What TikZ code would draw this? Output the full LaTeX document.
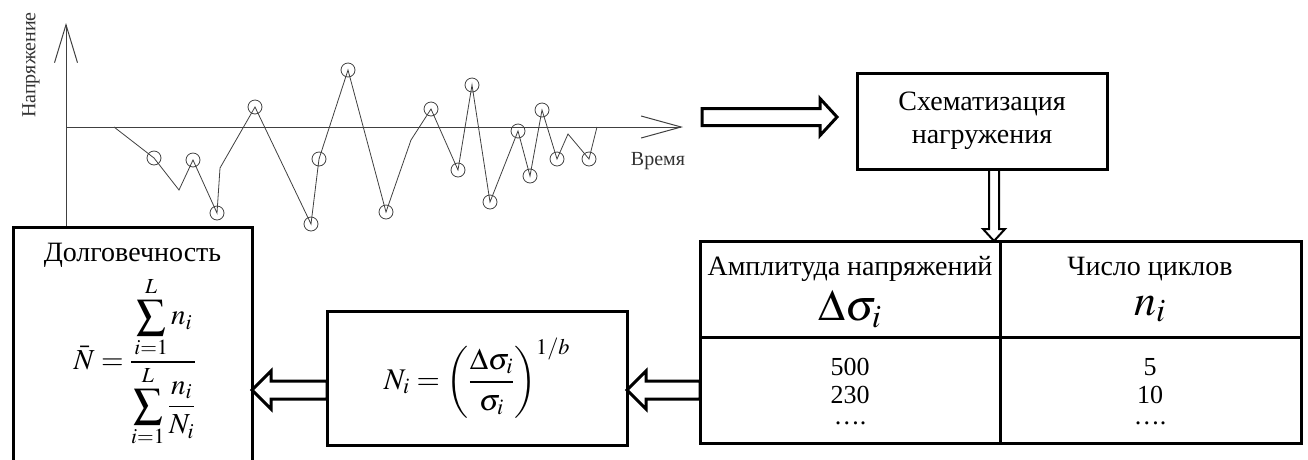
\documentclass[tikz,border=0pt]{standalone}
\usepackage{amsmath}
\usepackage{mathptmx}
\usepackage[no-math]{fontspec}
\setmainfont{Liberation Serif}
\usetikzlibrary{positioning, calc, arrows.meta}

\tikzset{
  blockarrow/.style n args={3}{draw, line width=3pt, line join=miter, to path={
    ($(\tikztostart)!#1!90:(\tikztotarget)$)
    -- ($(\tikztotarget)!#3!(\tikztostart)!#1!90:(\tikztotarget)$)
    -- ($(\tikztotarget)!#3!(\tikztostart)!#2!90:(\tikztotarget)$)
    -- (\tikztotarget)
    -- ($(\tikztotarget)!#3!(\tikztostart)!#2!-90:(\tikztotarget)$)
    -- ($(\tikztotarget)!#3!(\tikztostart)!#1!-90:(\tikztotarget)$)
    -- ($(\tikztostart)!#1!-90:(\tikztotarget)$) -- cycle}}
}

\begin{document}
\begin{tikzpicture}[x=1pt, y=-1pt,
    box/.style={draw, line width=3pt, rectangle, outer sep=0pt, inner sep=0pt, align=center, font=\fontsize{28}{33}\selectfont},
    cell/.style={box, minimum width=300pt},
    txt/.style={font=\fontsize{28}{33}\selectfont, inner sep=0pt},
    val/.style={font=\fontsize{26}{28}\selectfont, inner sep=0pt},
    big/.style={font=\fontsize{44}{44}\selectfont, inner sep=0pt},
    axis/.style={draw=black!75, line width=1pt},
    signal/.style={draw=black!75, line width=0.8pt},
    lbl/.style={font=\fontsize{20}{24}\selectfont, text=black!80, inner sep=0pt}
]
    \useasboundingbox (0,0) rectangle (1308,459);
    \clip (0,0) rectangle (1308,459);
    % Stress history
    \coordinate (o) at (66,127);
    \draw[axis, -{Straight Barb[length=38pt, width=23pt]}] (66,226) -- (66,23);
    \draw[axis, -{Straight Barb[length=40pt, width=22pt]}] (o) -- (683,127);
    \node[lbl, rotate=90] (ylab) at (31,65) {Напряжение};
    \node[lbl] (xlab) at (658,161) {Время};
    \draw[signal] plot coordinates {(114,127) (154,158) (179,190) (193,160) (217,213) (220,168)
        (255,107) (311,224) (319,159) (348,70) (386,212) (411,140) (431,109) (458,170)
        (472,85) (490,202) (518,131) (530,176) (542,110) (557,159) (568,134) (589,159) (597,127)};
    \foreach \px/\py in {154/158, 193/160, 217/213, 255/107, 311/224, 319/159, 348/70, 386/212,
        431/109, 458/170, 472/85, 490/202, 518/131, 530/176, 542/110, 557/159, 589/159}
        \draw[signal] (\px,\py) circle[radius=7pt];
    % Schematisation
    \node[box, minimum width=250pt, minimum height=96pt] (sch) at (982,121) {Схематизация\\нагружения};
    % Table of blocks
    \node[cell, minimum height=96pt] (hA) at (850,289) {};
    \node[cell, minimum width=301pt, minimum height=96pt, right=0pt of hA] (hB) {};
    \node[cell, minimum height=106pt, below=0pt of hA] (vA) {};
    \node[cell, minimum width=301pt, minimum height=106pt, below=0pt of hB] (vB) {};
    \node[txt] (ampl) at (850,269) {Амплитуда напряжений};
    \node[big] (dsig) at (850,309) {$\Delta\sigma_i$};
    \node[txt] (ncyc) at (1150,269) {Число циклов};
    \node[big] (ni) at (1150,309) {$n_i$};
    \node[val] (a1) at (850,367) {500};
    \node[val] (a2) at (850,395) {230};
    \node[val] (a3) at (850,423) {….};
    \node[val] (n1) at (1150,367) {5};
    \node[val] (n2) at (1150,395) {10};
    \node[val] (n3) at (1150,423) {….};
    % Cycles to failure
    \node[box, minimum width=300pt, minimum height=134pt] (rate) at (477,378)
        {\fontsize{30}{30}\selectfont $N_i=\left(\dfrac{\Delta\sigma_i}{\sigma_i}\right)^{1/b}$};
    % Durability
    \node[box, minimum width=239pt, minimum height=250pt, anchor=north] (life) at (132.5,227) {};
    \node[txt] (lifettl) at (132.5,255) {Долговечность};
    \node[inner sep=0pt, font=\fontsize{29}{29}\selectfont] (lifefml) at (135,362)
        {$\bar{N}=\dfrac{\displaystyle\sum_{i=1}^{L}n_i}{\displaystyle\sum_{i=1}^{L}\dfrac{n_i}{N_i}}$};
    % Block arrows
    \coordinate (a1s) at (702,117);
    \coordinate (a1e) at (837,117);
    \coordinate (row) at (0,390);
    \draw[blockarrow={8.5pt}{18.5pt}{17pt}] (a1s) to (a1e);
    \draw[blockarrow={5pt}{11pt}{12pt}, line width=2pt] ([xshift=12pt]sch.south) to ([xshift=12pt]sch.south |- hA.north);
    \draw[blockarrow={9pt}{19pt}{19pt}] (vA.west |- row) to (rate.east |- row);
    \draw[blockarrow={9pt}{19pt}{19pt}] (rate.west |- row) to (life.east |- row);
\end{tikzpicture}
\end{document}
